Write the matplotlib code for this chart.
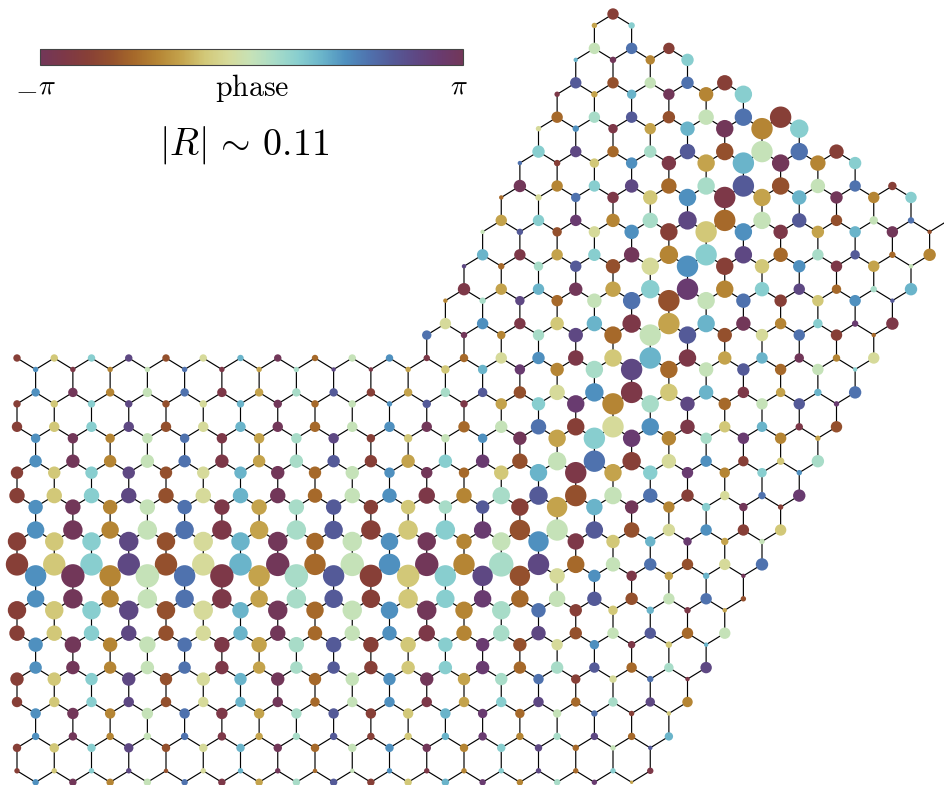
#!/usr/bin/env python3
# bent graphene waveguide, site amplitude and phase on the honeycomb lattice
import numpy as np
import matplotlib as mpl
mpl.use('Agg')
import matplotlib.pyplot as plt
from matplotlib.collections import LineCollection
from matplotlib.colors import LinearSegmentedColormap, Normalize

plt.rcParams['mathtext.fontset'] = 'cm'

# phase letters, a = -pi ... r, 20 deg per letter
phase_letters = 'abcdefghijklmnopqr'
phase_colors = ['#723759', '#7d3848', '#873f37', '#94502d', '#a6692a', '#b58534',
                '#c4a34c', '#d2c878', '#d6da9a', '#c6e2b8', '#a8dcc8', '#88cecf',
                '#6ab4ca', '#4f90bf', '#4f72ae', '#545a98', '#5e4884', '#693b70']

# first lattice column of every zigzag row
row_start = [32, 31, 31, 30, 30, 29, 29, 28, 28, 27, 27, 26, 26, 25, 25, 24, 24, 23, 23, 22,
             0, 1, 1, 0, 0, 1, 1, 0, 0, 1, 1, 0, 0, 1, 1, 0, 0, 1, 1, 0, 0, 1, 1, 0, 0, 1]

# phase of each site, one string per row
row_phase = [
    'c', 'gl', 'joc', 'mafl', 'pdjoc', 'bgmafl', 'ekpdjoc', 'inbgmafl', 'lqekpdjoc',
    'ochnbgmafl', 'aflqekpdjoc', 'eiobhnbgmafl', 'glrfkqejpdjoq', 'jpdinchnbgmad',
    'mbglaflqekpef', 'qekpdinchnbgj', 'bgmaglrflqekm', 'fkqejodjochnp', 'inbhmbgmaflrb',
    'oafkqejpdioce',
    'chlqdimaejnbeinbhmbgmafi', 'nbfjobgkqbghmrfkqejpejl', 'nafjobgkpcgkpdinbhmbgmo',
    'chlqdimaejnpbglrfkqejpr', 'chlqdimaejnaejocinbhmbd', 'nafjobgkqchjnaglrfkrfg',
    'nafjobgkpcglrdjocinchk', 'chlqdimaejnaehmbglrfln', 'chlqdimaejnbfkpdjocior',
    'nafjobgkpchkpcgmaflac', 'nafjobgkpchlrdjpdinch', 'chlqdimaejnafjnbhmrgj',
    'chlqdimaejnafkqejodio', 'nafjobgkpchlqdinbgma', 'nafjobgkpchlrejpdjod',
    'chlqdimaejnafkochmbg', 'chlqdimaejnbfkqdjpej', 'nafjobgkpchlrdinbhm',
    'nafjobgkpchlrekpekq', 'chlqdimaejnagkociob', 'chlqdimaejnbglqekqf',
    'nafjobgkpchmrejoch', 'nafjobgkpchmrfkqem', 'chlqdimaejnaflqejp',
    'chlqdimaejnbflqelb', 'nafjobgkpchmrfkrg']

# dot diameter (pixels) of each site
row_diam = [
    [11], [5, 6], [11, 11, 11], [4, 6, 9, 12], [11, 11, 11, 12, 15],
    [5, 6, 9, 11, 14, 17], [11, 11, 11, 12, 15, 17, 21], [5, 6, 9, 11, 14, 17, 21, 18],
    [12, 11, 11, 12, 15, 17, 21, 17, 14], [4, 6, 9, 11, 14, 17, 21, 17, 15, 12],
    [12, 11, 11, 13, 15, 17, 21, 17, 14, 11, 8],
    [4, 6, 9, 11, 14, 17, 21, 17, 14, 12, 11, 11],
    [11, 11, 11, 13, 15, 18, 21, 17, 14, 11, 8, 6, 5],
    [4, 6, 9, 11, 14, 17, 21, 17, 14, 12, 11, 11, 4],
    [11, 11, 11, 12, 15, 18, 21, 17, 14, 11, 9, 6, 12],
    [4, 6, 9, 11, 14, 17, 21, 17, 14, 12, 11, 11, 4],
    [12, 11, 11, 13, 15, 18, 21, 17, 14, 11, 9, 6, 12],
    [4, 6, 9, 11, 14, 17, 21, 17, 14, 12, 11, 11, 4],
    [11, 11, 11, 13, 15, 18, 21, 17, 14, 11, 9, 6, 12],
    [9, 6, 8, 11, 14, 17, 21, 17, 14, 12, 11, 11, 4],
    [7, 7, 7, 7, 7, 7, 6, 7, 6, 7, 7, 6, 8, 11, 12, 15, 17, 21, 17, 13, 11, 9, 7, 11],
    [5, 5, 5, 5, 5, 5, 5, 5, 4, 4, 5, 8, 9, 10, 13, 17, 21, 17, 14, 12, 11, 11, 4],
    [8, 9, 8, 9, 8, 9, 8, 8, 8, 8, 8, 9, 9, 12, 15, 18, 21, 17, 14, 11, 9, 7, 12],
    [7, 7, 7, 7, 7, 7, 7, 8, 7, 7, 5, 8, 7, 11, 13, 17, 21, 17, 14, 12, 11, 11, 5],
    [10, 10, 10, 10, 10, 10, 10, 10, 10, 10, 10, 10, 11, 12, 15, 17, 21, 17, 14, 11, 10, 7, 11],
    [9, 10, 9, 10, 9, 10, 10, 10, 10, 8, 8, 8, 9, 13, 17, 21, 17, 14, 11, 11, 11, 5],
    [12, 13, 12, 13, 12, 13, 12, 13, 12, 12, 13, 13, 13, 15, 18, 21, 18, 14, 11, 10, 7, 12],
    [12, 12, 12, 12, 12, 12, 12, 13, 12, 13, 10, 11, 10, 14, 17, 21, 17, 14, 11, 10, 9, 5],
    [15, 15, 15, 15, 15, 15, 15, 15, 14, 15, 14, 16, 15, 17, 18, 21, 17, 14, 12, 9, 7, 12],
    [14, 15, 14, 15, 14, 15, 15, 15, 15, 14, 14, 13, 13, 17, 20, 16, 13, 11, 8, 8, 5],
    [17, 19, 17, 19, 18, 19, 18, 19, 18, 19, 19, 19, 17, 20, 21, 17, 15, 12, 11, 11, 11],
    [18, 18, 18, 19, 18, 19, 18, 19, 17, 19, 17, 18, 15, 18, 20, 16, 13, 10, 8, 7, 5],
    [22, 22, 22, 22, 22, 22, 22, 23, 21, 23, 21, 23, 21, 24, 21, 17, 14, 12, 11, 11, 12],
    [21, 23, 21, 23, 21, 23, 21, 23, 21, 22, 22, 21, 20, 20, 15, 12, 10, 8, 6, 4],
    [17, 19, 17, 19, 18, 19, 17, 19, 18, 18, 19, 18, 17, 17, 16, 14, 12, 11, 11, 5],
    [18, 18, 18, 19, 18, 19, 16, 19, 17, 19, 17, 19, 17, 18, 14, 12, 9, 7, 6, 4],
    [15, 15, 15, 15, 15, 15, 14, 15, 14, 15, 14, 16, 15, 16, 14, 12, 11, 11, 11, 11],
    [14, 16, 14, 16, 14, 15, 15, 15, 15, 15, 15, 14, 13, 13, 11, 9, 7, 6, 4],
    [12, 13, 12, 13, 12, 13, 12, 12, 12, 13, 13, 13, 13, 12, 12, 10, 10, 9, 11],
    [13, 13, 12, 13, 12, 13, 12, 13, 12, 13, 12, 13, 12, 12, 10, 9, 7, 6, 4],
    [10, 10, 10, 10, 10, 10, 10, 10, 9, 10, 10, 10, 10, 10, 10, 9, 9, 9, 10],
    [10, 11, 10, 11, 10, 11, 10, 10, 10, 10, 10, 10, 9, 9, 8, 6, 5, 4],
    [7, 8, 7, 7, 7, 8, 7, 7, 7, 7, 7, 7, 8, 7, 7, 7, 7, 8],
    [8, 9, 8, 9, 8, 8, 8, 8, 8, 8, 8, 8, 8, 8, 7, 6, 5, 4],
    [5, 5, 5, 5, 4, 5, 5, 5, 4, 4, 5, 5, 5, 5, 5, 5, 5, 6],
    [6, 7, 7, 7, 6, 7, 7, 7, 7, 7, 7, 7, 6, 6, 6, 5, 3]]

W, H = 945, 785
fig = plt.figure(figsize=(W/100, H/100), dpi=100)
ax = fig.add_axes([0, 0, 1, 1])
# one x unit is a lattice column, one y unit is a third of a zigzag row pair
xpx, ypx = 18.625, 34.4/3
ax.set_xlim(-17/xpx, (W-17)/xpx)
ax.set_ylim((H-14)/ypx, -14/ypx)
ax.axis('off')

cmap = LinearSegmentedColormap.from_list('phase', phase_colors + phase_colors[:1], N=512)
norm = Normalize(-np.pi, np.pi)


def row_y(r):
    return 3*(r//2) + r % 2


xs, ys, cs, ds = [], [], [], []
sites = set()
for r, (k0, ph, dd) in enumerate(zip(row_start, row_phase, row_diam)):
    for i, (p, d) in enumerate(zip(ph, dd)):
        k = k0 + 2*i
        sites.add((r, k))
        xs.append(k)
        ys.append(row_y(r))
        cs.append(-np.pi + 2*np.pi*phase_letters.index(p)/len(phase_letters))
        ds.append(d)

#--- bonds, zigzag from even rows and vertical from odd rows ---#
segs = []
for r, k in sites:
    nbrs = [k-1, k+1] if r % 2 == 0 else [k]
    for n in nbrs:
        if (r+1, n) in sites:
            segs.append([(k, row_y(r)), (n, row_y(r+1))])
lines = LineCollection(segs, colors='k', linewidths=0.85, zorder=1)
lines.set_snap(False)
ax.add_collection(lines)

ax.scatter(xs, ys, s=((np.array(ds)+0.4)*0.72)**2, c=cs, cmap=cmap, norm=norm,
           linewidths=0, zorder=2)

#--- colorbar ---#
cax = fig.add_axes([40/W, 1-65/H, 423/W, 16/H])
cb = fig.colorbar(mpl.cm.ScalarMappable(norm=norm, cmap=cmap), cax=cax, orientation='horizontal')
cb.set_ticks([])
cb.outline.set_edgecolor('#444444')
cb.outline.set_linewidth(0.8)

fig.text(26/W, 1-90/H, r'$-$', fontsize=21, ha='center', va='center')
fig.text(46.5/W, 1-85/H, r'$\pi$', fontsize=20, ha='center', va='center')
fig.text(459/W, 1-85/H, r'$\pi$', fontsize=20, ha='center', va='center')
fig.text(252/W, 1-88/H, r'$\mathrm{phase}$', fontsize=21.5, ha='center', va='center')
fig.text(244/W, 1-145/H, r'$|R|\,\sim\,0.11$', fontsize=27.3, ha='center', va='center')

fig.savefig('out.png', dpi=100)
